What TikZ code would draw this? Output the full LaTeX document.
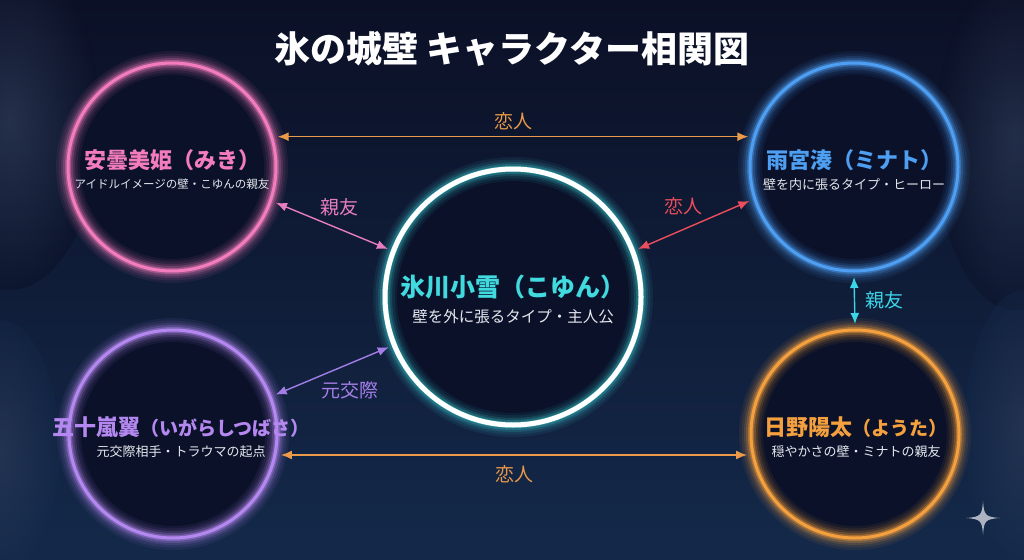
\documentclass[tikz,border=0pt]{standalone}
\usepackage{fontspec}
\setmainfont{Noto Sans CJK JP}
\usetikzlibrary{positioning,arrows.meta}
\definecolor{bgtop}{HTML}{0B1026}
\definecolor{bgbot}{HTML}{14294A}
\definecolor{frost}{HTML}{3C4A68}
\definecolor{ringfill}{HTML}{0A1129}
\definecolor{mikipink}{HTML}{F27CBC}
\definecolor{minatoblue}{HTML}{4E9EF2}
\definecolor{koyuncyan}{HTML}{40DADF}
\definecolor{tsubasapurple}{HTML}{B488F0}
\definecolor{youtaorange}{HTML}{F5A03E}
\definecolor{loveorange}{HTML}{EA9A48}
\definecolor{lovered}{HTML}{EC4D5C}
\definecolor{friendpink}{HTML}{E67DBF}
\definecolor{friendcyan}{HTML}{3BD5E8}
\definecolor{expurple}{HTML}{A47DE6}
\definecolor{subgray}{HTML}{E6E8EE}
\definecolor{sparkle}{HTML}{C8CCD6}
\tikzset{
    ring/.style 2 args = {circle, draw=#2, minimum size=208pt,
        inner sep=0pt, outer sep=6pt, line width=3pt,
        preaction={fill=ringfill},
        preaction={draw=#1, line width=24pt, draw opacity=.07},
        preaction={draw=#1, line width=19pt, draw opacity=.09},
        preaction={draw=#1, line width=14pt, draw opacity=.14},
        preaction={draw=#1, line width=10pt, draw opacity=.22},
        preaction={draw=#1, line width=6pt, draw opacity=.40}},
    charname/.style = {font=\bfseries\fontsize{22}{26}\selectfont, text=#1, inner sep=3pt},
    charsub/.style = {font=\fontsize{13}{15}\selectfont, text=subgray, inner sep=3pt},
    rel/.style = {draw=#1, text=#1, line width=1.4pt,
        {Latex[length=11pt,width=9pt]}-{Latex[length=11pt,width=9pt]}},
    rellabel/.style = {font=\fontsize{19}{21}\selectfont, inner sep=2pt}
}

\begin{document}
\begin{tikzpicture}[x=1pt, y=-1pt]
    \shade[top color=bgtop, bottom color=bgbot] (0,0) rectangle (1024,559);
    \useasboundingbox (0,0) rectangle (1024,559);
    \shade[inner color=frost, outer color=bgtop, opacity=.5] (10,120) ellipse (90 and 170);
    \shade[inner color=frost, outer color=bgbot, opacity=.4] (0,450) ellipse (60 and 130);
    \shade[inner color=frost, outer color=bgtop, opacity=.45] (1015,140) ellipse (80 and 170);
    \shade[inner color=frost, outer color=bgbot, opacity=.4] (1024,430) ellipse (60 and 140);
    \node[font=\bfseries\fontsize{36}{40}\selectfont, text=white] (title) at (512,49) {氷の城壁 キャラクター相関図};

    \node[ring={mikipink}{mikipink}] (miki) at (172,167) {};
    \node[ring={minatoblue}{minatoblue}] (minato) at (854,167) {};
    \node[ring={koyuncyan}{white}, minimum size=256pt, line width=5pt] (koyun) at (513,297) {};
    \node[ring={tsubasapurple}{tsubasapurple}] (tsubasa) at (173,434) {};
    \node[ring={youtaorange}{youtaorange}] (youta) at (855,434) {};

    \node[charname=mikipink] (mikiname) at ([yshift=7pt]miki.center) {安曇美姫（みき）};
    \node[charsub, below=2pt of mikiname, font=\fontsize{11.5}{14}\selectfont] (mikisub) {アイドルイメージの壁・こゆんの親友};
    \node[charname=minatoblue] (minatoname) at ([yshift=7pt]minato.center) {雨宮湊（ミナト）};
    \node[charsub, below=2pt of minatoname] (minatosub) {壁を内に張るタイプ・ヒーロー};
    \node[charname=koyuncyan, font=\bfseries\fontsize{25}{28}\selectfont] (koyunname) at ([yshift=10pt]koyun.center) {氷川小雪（こゆん）};
    \node[charsub, below=4pt of koyunname, font=\fontsize{15.5}{18}\selectfont] (koyunsub) {壁を外に張るタイプ・主人公};
    \node[charname=tsubasapurple] (tsubasaname) at ([yshift=7pt, xshift=8pt]tsubasa.center) {五十嵐翼{\fontsize{19}{21}\selectfont（いがらしつばさ）}};
    \node[charsub, below=2pt of tsubasaname] (tsubasasub) {元交際相手・トラウマの起点};
    \node[charname=youtaorange] (youtaname) at ([yshift=7pt, xshift=1pt]youta.center) {日野陽太{\fontsize{19}{21}\selectfont（ようた）}};
    \node[charsub, below=2pt of youtaname] (youtasub) {穏やかさの壁・ミナトの親友};

    \draw[rel=loveorange] (miki.16) -- node[rellabel, above=4pt] {恋人} (minato.164);
    \draw[rel=friendpink] (miki.-19) -- node[rellabel, above=7pt, xshift=8pt] {親友} (koyun.159);
    \draw[rel=lovered] (koyun.21) -- node[rellabel, above=7pt, xshift=-10pt] {恋人} (minato.198);
    \draw[rel=friendcyan] (minato.south) -- node[rellabel, right=8pt] {親友} (youta.north);
    \draw[rel=expurple] (tsubasa.21) -- node[rellabel, below=8pt, xshift=18pt] {元交際} (koyun.202);
    \draw[rel=loveorange] (tsubasa.-11.5) -- node[rellabel, below=8pt] {恋人} (youta.191.5);

    \fill[sparkle, opacity=.85] (983,501) .. controls (984,515) and (985,517) .. (1000,518)
        .. controls (985,519) and (984,521) .. (983,535) .. controls (982,521) and (981,519) .. (966,518)
        .. controls (981,517) and (982,515) .. (983,501) -- cycle;
\end{tikzpicture}
\end{document}
